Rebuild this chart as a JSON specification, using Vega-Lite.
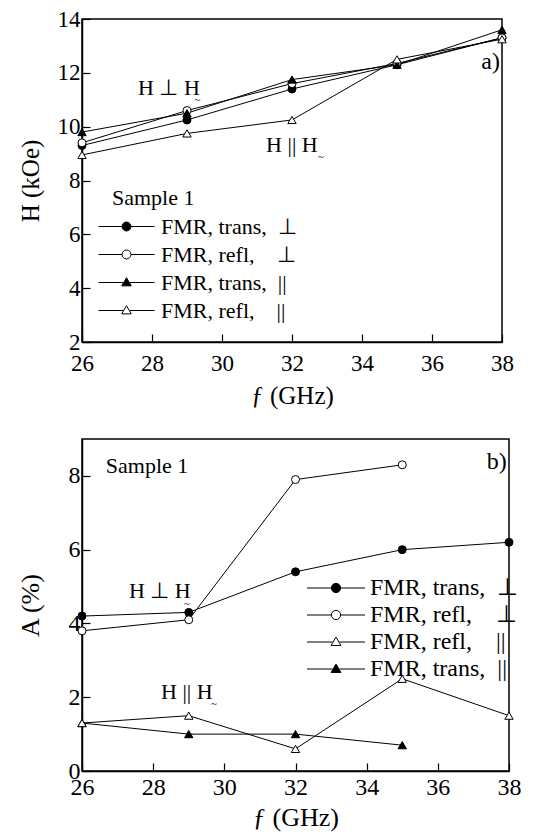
{
  "$schema": "https://vega.github.io/schema/vega-lite/v6.json",
  "padding": {"left": 16, "top": 7, "right": 5, "bottom": 2},
  "spacing": 29,
  "datasets": {
    "a": [
      {"f": 26, "v": 9.3, "s": "FMR, trans,\u00a0\u00a0⊥"},
      {"f": 29, "v": 10.25, "s": "FMR, trans,\u00a0\u00a0⊥"},
      {"f": 32, "v": 11.4, "s": "FMR, trans,\u00a0\u00a0⊥"},
      {"f": 35, "v": 12.3, "s": "FMR, trans,\u00a0\u00a0⊥"},
      {"f": 38, "v": 13.3, "s": "FMR, trans,\u00a0\u00a0⊥"},
      {"f": 26, "v": 9.4, "s": "FMR, refl,\u00a0\u00a0\u00a0\u00a0⊥"},
      {"f": 29, "v": 10.6, "s": "FMR, refl,\u00a0\u00a0\u00a0\u00a0⊥"},
      {"f": 32, "v": 11.6, "s": "FMR, refl,\u00a0\u00a0\u00a0\u00a0⊥"},
      {"f": 35, "v": 12.35, "s": "FMR, refl,\u00a0\u00a0\u00a0\u00a0⊥"},
      {"f": 38, "v": 13.3, "s": "FMR, refl,\u00a0\u00a0\u00a0\u00a0⊥"},
      {"f": 26, "v": 9.8, "s": "FMR, trans,\u00a0\u00a0||"},
      {"f": 29, "v": 10.5, "s": "FMR, trans,\u00a0\u00a0||"},
      {"f": 32, "v": 11.75, "s": "FMR, trans,\u00a0\u00a0||"},
      {"f": 35, "v": 12.3, "s": "FMR, trans,\u00a0\u00a0||"},
      {"f": 38, "v": 13.6, "s": "FMR, trans,\u00a0\u00a0||"},
      {"f": 26, "v": 8.95, "s": "FMR, refl,\u00a0\u00a0\u00a0\u00a0||"},
      {"f": 29, "v": 9.75, "s": "FMR, refl,\u00a0\u00a0\u00a0\u00a0||"},
      {"f": 32, "v": 10.25, "s": "FMR, refl,\u00a0\u00a0\u00a0\u00a0||"},
      {"f": 35, "v": 12.5, "s": "FMR, refl,\u00a0\u00a0\u00a0\u00a0||"},
      {"f": 38, "v": 13.25, "s": "FMR, refl,\u00a0\u00a0\u00a0\u00a0||"}
    ],
    "b": [
      {"f": 26, "v": 4.2, "s": "FMR, trans,\u00a0\u00a0⊥"},
      {"f": 29, "v": 4.3, "s": "FMR, trans,\u00a0\u00a0⊥"},
      {"f": 32, "v": 5.4, "s": "FMR, trans,\u00a0\u00a0⊥"},
      {"f": 35, "v": 6.0, "s": "FMR, trans,\u00a0\u00a0⊥"},
      {"f": 38, "v": 6.2, "s": "FMR, trans,\u00a0\u00a0⊥"},
      {"f": 26, "v": 3.8, "s": "FMR, refl,\u00a0\u00a0\u00a0\u00a0⊥"},
      {"f": 29, "v": 4.1, "s": "FMR, refl,\u00a0\u00a0\u00a0\u00a0⊥"},
      {"f": 32, "v": 7.9, "s": "FMR, refl,\u00a0\u00a0\u00a0\u00a0⊥"},
      {"f": 35, "v": 8.3, "s": "FMR, refl,\u00a0\u00a0\u00a0\u00a0⊥"},
      {"f": 26, "v": 1.3, "s": "FMR, refl,\u00a0\u00a0\u00a0\u00a0||"},
      {"f": 29, "v": 1.5, "s": "FMR, refl,\u00a0\u00a0\u00a0\u00a0||"},
      {"f": 32, "v": 0.6, "s": "FMR, refl,\u00a0\u00a0\u00a0\u00a0||"},
      {"f": 35, "v": 2.5, "s": "FMR, refl,\u00a0\u00a0\u00a0\u00a0||"},
      {"f": 38, "v": 1.5, "s": "FMR, refl,\u00a0\u00a0\u00a0\u00a0||"},
      {"f": 26, "v": 1.3, "s": "FMR, trans,\u00a0\u00a0||"},
      {"f": 29, "v": 1.0, "s": "FMR, trans,\u00a0\u00a0||"},
      {"f": 32, "v": 1.0, "s": "FMR, trans,\u00a0\u00a0||"},
      {"f": 35, "v": 0.7, "s": "FMR, trans,\u00a0\u00a0||"}
    ],
    "ann_a": [
      {"x": 27.6, "y": 11.44, "t": "H ⊥ H"},
      {"x": 31.26, "y": 9.32, "t": "H || H"}
    ],
    "sub_a": [
      {"x": 29.3, "y": 11.0, "t": "~"},
      {"x": 32.83, "y": 8.87, "t": "~"}
    ],
    "corner_a": [{"x": 37.94, "y": 12.4, "t": "a)"}],
    "ann_b": [
      {"x": 26.67, "y": 8.27, "t": "Sample 1"},
      {"x": 27.32, "y": 4.88, "t": "H ⊥ H"},
      {"x": 28.22, "y": 2.14, "t": "H || H"}
    ],
    "sub_b": [
      {"x": 28.95, "y": 4.53, "t": "~"},
      {"x": 29.71, "y": 1.82, "t": "~"}
    ],
    "corner_b": [{"x": 37.94, "y": 8.37, "t": "b)"}]
  },
  "vconcat": [
    {
      "width": 420,
      "height": 323,
      "data": {"name": "a"},
      "layer": [
        {
          "mark": {"type": "line", "color": "black", "strokeWidth": 1},
          "encoding": {
            "x": {"field": "f", "type": "quantitative", "scale": {"domain": [26, 38], "nice": false, "zero": false},
              "axis": {"values": [26,27,28,29,30,31,32,33,34,35,36,37,38], "labelExpr": "datum.value % 2 == 0 ? datum.label : ''",
                "tickSize": {"condition": {"test": "datum.value % 2 == 0", "value": -8}, "value": -4},
                "title": "ƒ (GHz)", "labelFontSize": 23, "titleFontSize": 25, "labelPadding": 18, "titlePadding": 8}},
            "y": {"field": "v", "type": "quantitative", "scale": {"domain": [2, 14], "nice": false, "zero": false},
              "axis": {"values": [2,3,4,5,6,7,8,9,10,11,12,13,14], "labelExpr": "datum.value % 2 == 0 ? datum.label : ''",
                "tickSize": {"condition": {"test": "datum.value % 2 == 0", "value": -8}, "value": -4},
                "title": "H (kOe)", "labelFontSize": 23, "titleFontSize": 25, "labelPadding": 10, "titlePadding": 14}},
            "detail": {"field": "s"}
          }
        },
        {
          "transform": [{"filter": "indexof(datum.s, 'trans') >= 0 && indexof(datum.s, '⊥') >= 0"}],
          "mark": {"type": "point", "shape": "circle", "filled": true, "fill": "black", "stroke": "black", "strokeWidth": 1, "size": 64, "opacity": 1},
          "encoding": {"x": {"field": "f", "type": "quantitative"}, "y": {"field": "v", "type": "quantitative"}}
        },
        {
          "transform": [{"filter": "indexof(datum.s, 'refl') >= 0 && indexof(datum.s, '⊥') >= 0"}],
          "mark": {"type": "point", "shape": "circle", "filled": true, "fill": "white", "stroke": "black", "strokeWidth": 1, "size": 64, "opacity": 1},
          "encoding": {"x": {"field": "f", "type": "quantitative"}, "y": {"field": "v", "type": "quantitative"}}
        },
        {
          "transform": [{"filter": "indexof(datum.s, 'trans') >= 0 && indexof(datum.s, '||') >= 0"}],
          "mark": {"type": "point", "shape": "triangle-up", "filled": true, "fill": "black", "stroke": "black", "strokeWidth": 1, "size": 70, "opacity": 1},
          "encoding": {"x": {"field": "f", "type": "quantitative"}, "y": {"field": "v", "type": "quantitative"}}
        },
        {
          "transform": [{"filter": "indexof(datum.s, 'refl') >= 0 && indexof(datum.s, '||') >= 0"}],
          "mark": {"type": "point", "shape": "triangle-up", "filled": true, "fill": "white", "stroke": "black", "strokeWidth": 1, "size": 70, "opacity": 1},
          "encoding": {"x": {"field": "f", "type": "quantitative"}, "y": {"field": "v", "type": "quantitative"}}
        },
        {
          "mark": {"type": "point", "filled": true, "strokeWidth": 1, "size": 0, "opacity": 1},
          "encoding": {
            "x": {"field": "f", "type": "quantitative"},
            "y": {"field": "v", "type": "quantitative"},
            "shape": {"field": "s", "type": "nominal",
              "scale": {"domain": ["FMR, trans,\u00a0\u00a0⊥", "FMR, refl,\u00a0\u00a0\u00a0\u00a0⊥", "FMR, trans,\u00a0\u00a0||", "FMR, refl,\u00a0\u00a0\u00a0\u00a0||"],
                "range": [
                  "M-2,0H-0.32M0.32,0H2M0.32,0A0.32,0.32,0,1,1,-0.32,0A0.32,0.32,0,1,1,0.32,0Z",
                  "M-2,0H-0.32M0.32,0H2M0.32,0A0.32,0.32,0,1,1,-0.32,0A0.32,0.32,0,1,1,0.32,0Z",
                  "M-2,0H-0.24M0.24,0H2M0,-0.34L0.34,0.24L-0.34,0.24Z",
                  "M-2,0H-0.24M0.24,0H2M0,-0.34L0.34,0.24L-0.34,0.24Z"]},
              "legend": {"orient": "none", "legendX": 30, "legendY": 169, "title": "Sample 1", "titleFontSize": 22, "labelFontSize": 22, "symbolSize": 784, "labelOffset": 20, "rowPadding": 2, "padding": 0, "titlePadding": 2, "symbolStrokeWidth": 1}},
            "fill": {"field": "s", "type": "nominal",
              "scale": {"domain": ["FMR, trans,\u00a0\u00a0⊥", "FMR, refl,\u00a0\u00a0\u00a0\u00a0⊥", "FMR, trans,\u00a0\u00a0||", "FMR, refl,\u00a0\u00a0\u00a0\u00a0||"],
                "range": ["black", "white", "black", "white"]},
              "legend": {"orient": "none", "legendX": 30, "legendY": 169, "title": "Sample 1", "titleFontSize": 22, "labelFontSize": 22, "symbolSize": 784, "labelOffset": 20, "rowPadding": 2, "padding": 0, "titlePadding": 2, "symbolStrokeWidth": 1}},
            "stroke": {"field": "s", "type": "nominal",
              "scale": {"domain": ["FMR, trans,\u00a0\u00a0⊥", "FMR, refl,\u00a0\u00a0\u00a0\u00a0⊥", "FMR, trans,\u00a0\u00a0||", "FMR, refl,\u00a0\u00a0\u00a0\u00a0||"],
                "range": ["black", "black", "black", "black"]},
              "legend": {"orient": "none", "legendX": 30, "legendY": 169, "title": "Sample 1", "titleFontSize": 22, "labelFontSize": 22, "symbolSize": 784, "labelOffset": 20, "rowPadding": 2, "padding": 0, "titlePadding": 2, "symbolStrokeWidth": 1}}
          }
        },
        {
          "data": {"name": "ann_a"},
          "mark": {"type": "text", "align": "left", "baseline": "middle", "fontSize": 22, "color": "black"},
          "encoding": {"x": {"field": "x", "type": "quantitative"}, "y": {"field": "y", "type": "quantitative"}, "text": {"field": "t"}}
        },
        {
          "data": {"name": "sub_a"},
          "mark": {"type": "text", "align": "center", "baseline": "middle", "fontSize": 11, "color": "black"},
          "encoding": {"x": {"field": "x", "type": "quantitative"}, "y": {"field": "y", "type": "quantitative"}, "text": {"field": "t"}}
        },
        {
          "data": {"name": "corner_a"},
          "mark": {"type": "text", "align": "right", "baseline": "middle", "fontSize": 24, "color": "black"},
          "encoding": {"x": {"field": "x", "type": "quantitative"}, "y": {"field": "y", "type": "quantitative"}, "text": {"field": "t"}}
        }
      ]
    },
    {
      "width": 427,
      "height": 332,
      "data": {"name": "b"},
      "layer": [
        {
          "mark": {"type": "line", "color": "black", "strokeWidth": 1},
          "encoding": {
            "x": {"field": "f", "type": "quantitative", "scale": {"domain": [26, 38], "nice": false, "zero": false},
              "axis": {"values": [26,27,28,29,30,31,32,33,34,35,36,37,38], "labelExpr": "datum.value % 2 == 0 ? datum.label : ''",
                "tickSize": {"condition": {"test": "datum.value % 2 == 0", "value": -8}, "value": -4},
                "title": "ƒ (GHz)", "labelFontSize": 24, "titleFontSize": 26, "labelPadding": 12, "titlePadding": 5}},
            "y": {"field": "v", "type": "quantitative", "scale": {"domain": [0, 9], "nice": false, "zero": false},
              "axis": {"values": [0,1,2,3,4,5,6,7,8,9], "labelExpr": "datum.value % 2 == 0 ? datum.label : ''",
                "tickSize": {"condition": {"test": "datum.value % 2 == 0", "value": -8}, "value": -4},
                "title": "A (%)", "labelFontSize": 24, "titleFontSize": 26, "labelPadding": 10, "titlePadding": 25}},
            "detail": {"field": "s"}
          }
        },
        {
          "transform": [{"filter": "indexof(datum.s, 'trans') >= 0 && indexof(datum.s, '⊥') >= 0"}],
          "mark": {"type": "point", "shape": "circle", "filled": true, "fill": "black", "stroke": "black", "strokeWidth": 1, "size": 64, "opacity": 1},
          "encoding": {"x": {"field": "f", "type": "quantitative"}, "y": {"field": "v", "type": "quantitative"}}
        },
        {
          "transform": [{"filter": "indexof(datum.s, 'refl') >= 0 && indexof(datum.s, '⊥') >= 0"}],
          "mark": {"type": "point", "shape": "circle", "filled": true, "fill": "white", "stroke": "black", "strokeWidth": 1, "size": 64, "opacity": 1},
          "encoding": {"x": {"field": "f", "type": "quantitative"}, "y": {"field": "v", "type": "quantitative"}}
        },
        {
          "transform": [{"filter": "indexof(datum.s, 'trans') >= 0 && indexof(datum.s, '||') >= 0"}],
          "mark": {"type": "point", "shape": "triangle-up", "filled": true, "fill": "black", "stroke": "black", "strokeWidth": 1, "size": 70, "opacity": 1},
          "encoding": {"x": {"field": "f", "type": "quantitative"}, "y": {"field": "v", "type": "quantitative"}}
        },
        {
          "transform": [{"filter": "indexof(datum.s, 'refl') >= 0 && indexof(datum.s, '||') >= 0"}],
          "mark": {"type": "point", "shape": "triangle-up", "filled": true, "fill": "white", "stroke": "black", "strokeWidth": 1, "size": 70, "opacity": 1},
          "encoding": {"x": {"field": "f", "type": "quantitative"}, "y": {"field": "v", "type": "quantitative"}}
        },
        {
          "mark": {"type": "point", "filled": true, "strokeWidth": 1, "size": 0, "opacity": 1},
          "encoding": {
            "x": {"field": "f", "type": "quantitative"},
            "y": {"field": "v", "type": "quantitative"},
            "shape": {"field": "s", "type": "nominal",
              "scale": {"domain": ["FMR, trans,\u00a0\u00a0⊥", "FMR, refl,\u00a0\u00a0\u00a0\u00a0⊥", "FMR, refl,\u00a0\u00a0\u00a0\u00a0||", "FMR, trans,\u00a0\u00a0||"],
                "range": [
                  "M-2,0H-0.32M0.32,0H2M0.32,0A0.32,0.32,0,1,1,-0.32,0A0.32,0.32,0,1,1,0.32,0Z",
                  "M-2,0H-0.32M0.32,0H2M0.32,0A0.32,0.32,0,1,1,-0.32,0A0.32,0.32,0,1,1,0.32,0Z",
                  "M-2,0H-0.24M0.24,0H2M0,-0.34L0.34,0.24L-0.34,0.24Z",
                  "M-2,0H-0.24M0.24,0H2M0,-0.34L0.34,0.24L-0.34,0.24Z"]},
              "legend": {"orient": "none", "legendX": 239, "legendY": 134, "title": null, "labelFontSize": 24, "symbolSize": 841, "labelOffset": 19, "rowPadding": 0, "padding": 0, "symbolStrokeWidth": 1}},
            "fill": {"field": "s", "type": "nominal",
              "scale": {"domain": ["FMR, trans,\u00a0\u00a0⊥", "FMR, refl,\u00a0\u00a0\u00a0\u00a0⊥", "FMR, refl,\u00a0\u00a0\u00a0\u00a0||", "FMR, trans,\u00a0\u00a0||"],
                "range": ["black", "white", "white", "black"]},
              "legend": {"orient": "none", "legendX": 239, "legendY": 134, "title": null, "labelFontSize": 24, "symbolSize": 841, "labelOffset": 19, "rowPadding": 0, "padding": 0, "symbolStrokeWidth": 1}},
            "stroke": {"field": "s", "type": "nominal",
              "scale": {"domain": ["FMR, trans,\u00a0\u00a0⊥", "FMR, refl,\u00a0\u00a0\u00a0\u00a0⊥", "FMR, refl,\u00a0\u00a0\u00a0\u00a0||", "FMR, trans,\u00a0\u00a0||"],
                "range": ["black", "black", "black", "black"]},
              "legend": {"orient": "none", "legendX": 239, "legendY": 134, "title": null, "labelFontSize": 24, "symbolSize": 841, "labelOffset": 19, "rowPadding": 0, "padding": 0, "symbolStrokeWidth": 1}}
          }
        },
        {
          "data": {"name": "ann_b"},
          "mark": {"type": "text", "align": "left", "baseline": "middle", "fontSize": 22, "color": "black"},
          "encoding": {"x": {"field": "x", "type": "quantitative"}, "y": {"field": "y", "type": "quantitative"}, "text": {"field": "t"}}
        },
        {
          "data": {"name": "sub_b"},
          "mark": {"type": "text", "align": "center", "baseline": "middle", "fontSize": 11, "color": "black"},
          "encoding": {"x": {"field": "x", "type": "quantitative"}, "y": {"field": "y", "type": "quantitative"}, "text": {"field": "t"}}
        },
        {
          "data": {"name": "corner_b"},
          "mark": {"type": "text", "align": "right", "baseline": "middle", "fontSize": 24, "color": "black"},
          "encoding": {"x": {"field": "x", "type": "quantitative"}, "y": {"field": "y", "type": "quantitative"}, "text": {"field": "t"}}
        }
      ]
    }
  ],
  "resolve": {"scale": {"x": "independent", "y": "independent", "shape": "independent", "fill": "independent", "stroke": "independent"}},
  "config": {
    "font": "Liberation Serif",
    "background": "white",
    "view": {"stroke": "black", "strokeWidth": 1.5},
    "axis": {"grid": false, "domainColor": "black", "domainWidth": 1.5, "tickColor": "black", "tickWidth": 1.2,
      "labelColor": "black", "titleColor": "black", "labelFont": "Liberation Serif", "titleFont": "Liberation Serif",
      "titleFontWeight": "normal", "labelFlush": false, "labelOverlap": false},
    "legend": {"labelFont": "Liberation Serif", "titleFont": "Liberation Serif", "titleFontWeight": "normal",
      "labelColor": "black", "titleColor": "black", "symbolStrokeWidth": 1,
      "labelLimit": 400},
    "text": {"font": "Liberation Serif"}
  }
}
